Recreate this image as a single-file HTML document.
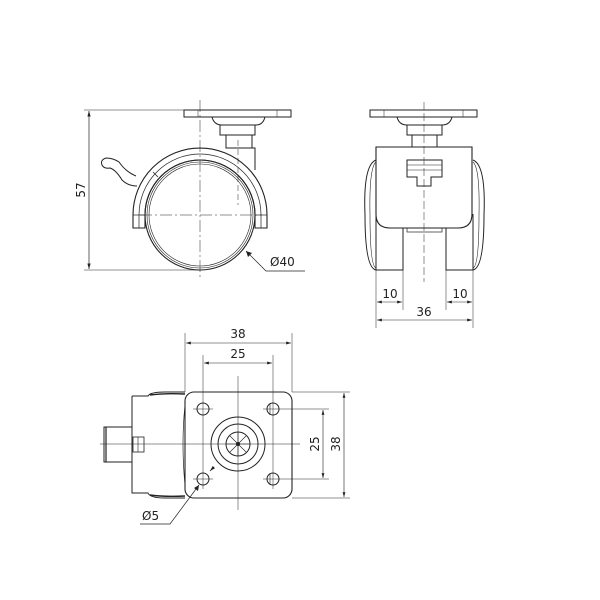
<!DOCTYPE html>
<html><head><style>
html,body{margin:0;padding:0;background:#fff;}
svg{display:block;}
text{font-family:"DejaVu Sans","Liberation Sans",sans-serif;font-size:12px;fill:#222;}
</style></head><body>
<svg width="600" height="600" viewBox="0 0 600 600" xmlns="http://www.w3.org/2000/svg">
<defs>
<marker id="a" viewBox="0 0 10 6" refX="10" refY="3" markerWidth="8" markerHeight="5" orient="auto-start-reverse"><path d="M0,0L10,3L0,6z" fill="#222"/></marker>
</defs>
<g fill="none" stroke="#222" stroke-width="1">
<!-- SIDE VIEW -->
<line x1="84" y1="110" x2="184" y2="110" stroke-width="0.6"/>
<line x1="84" y1="270" x2="200" y2="270" stroke-width="0.6"/>
<line x1="89" y1="111" x2="89" y2="269" stroke-width="0.7" marker-start="url(#a)" marker-end="url(#a)"/>
<rect x="184" y="110" width="107" height="7"/>
<line x1="198" y1="110" x2="198" y2="117" stroke-width="0.5"/>
<line x1="277" y1="110" x2="277" y2="117" stroke-width="0.5"/>
<path d="M212,117 Q214,125 222,125 L256,125 Q263,125 265,117"/>
<rect x="220" y="125" width="35" height="10"/>
<rect x="226" y="135" width="26" height="13"/>
<path d="M238,148 L255,148 L255,170"/>
<!-- fork -->
<path d="M133,228 L133,215 A67,67 0 0 1 267,215 L267,228 L255,228 L255,215 A55,55 0 0 0 145,215 L145,228 Z" stroke-width="1.1"/>
<path d="M139,228 L139,215 A61,61 0 0 1 261,215 L261,228" stroke-width="0.7"/>
<line x1="133" y1="215" x2="145" y2="215" stroke-width="0.7"/>
<line x1="255" y1="215" x2="267" y2="215" stroke-width="0.7"/>
<!-- wheel -->
<circle cx="200" cy="215" r="55" stroke-width="1.1"/>
<circle cx="200" cy="215" r="53" stroke-width="0.6"/>
<circle cx="200" cy="215" r="51" stroke-width="0.6"/>
<!-- lever -->
<path d="M136,176 Q126,172 119,162 Q113,158 106,158 Q100,160 102,165 Q104,169 110,168 Q116,170 122,180 Q128,186 137,186" stroke-width="1"/>
<line x1="153" y1="172" x2="158" y2="177" stroke-width="0.8"/>
<!-- centerlines -->
<line x1="200" y1="100" x2="200" y2="278" stroke-width="0.5" stroke-dasharray="12,3,2,3"/>
<line x1="140" y1="215" x2="262" y2="215" stroke-width="0.5" stroke-dasharray="12,3,2,3"/>
<line x1="238" y1="140" x2="238" y2="205" stroke-width="0.5" stroke-dasharray="6,3"/>
<!-- Ø40 leader -->
<polyline points="246,251 266,271 305,271" stroke-width="0.7"/>
<path d="M246,251 l6,2 l-4,4z" fill="#222" stroke="none"/>

<!-- FRONT VIEW -->
<rect x="370" y="110" width="107" height="7"/>
<line x1="384" y1="110" x2="384" y2="117" stroke-width="0.5"/>
<line x1="463" y1="110" x2="463" y2="117" stroke-width="0.5"/>
<path d="M397,117 Q399,125 407,125 L442,125 Q450,125 452,117"/>
<rect x="407" y="125" width="35" height="10"/>
<rect x="412" y="135" width="25" height="12"/>
<path d="M376,147 H472 V214 Q472,228 458,228 H390 Q376,228 376,214 Z" stroke-width="1.1"/>
<path d="M376,214 V270 H403 V228"/>
<path d="M473,214 V270 H446 V228"/>
<rect x="407" y="228" width="35" height="4" stroke-width="0.7"/>
<path d="M407,160 L442,160 L442,177 L431,177 L431,186 L417,186 L417,177 L407,177 Z"/>
<line x1="407" y1="165" x2="442" y2="165" stroke-width="0.6"/>
<line x1="407" y1="170" x2="442" y2="170" stroke-width="0.6"/>
<path d="M376,160 Q363,165 365,215 Q365,268 376,270" stroke-width="1"/>
<path d="M376,162 Q369,168 370,215 Q370,266 376,268" stroke-width="0.6"/>
<path d="M473,160 Q486,165 484,215 Q484,268 473,270" stroke-width="1"/>
<path d="M473,162 Q480,168 479,215 Q479,266 473,268" stroke-width="0.6"/>
<line x1="424" y1="102" x2="424" y2="282" stroke-width="0.5" stroke-dasharray="8,3"/>
<!-- front dims -->
<line x1="376" y1="270" x2="376" y2="328" stroke-width="0.5"/>
<line x1="473" y1="270" x2="473" y2="328" stroke-width="0.5"/>
<line x1="403" y1="270" x2="403" y2="310" stroke-width="0.5"/>
<line x1="446" y1="270" x2="446" y2="310" stroke-width="0.5"/>
<line x1="377" y1="302" x2="402" y2="302" stroke-width="0.6" marker-start="url(#a)" marker-end="url(#a)"/>
<line x1="447" y1="302" x2="472" y2="302" stroke-width="0.6" marker-start="url(#a)" marker-end="url(#a)"/>
<line x1="377" y1="320" x2="472" y2="320" stroke-width="0.6" marker-start="url(#a)" marker-end="url(#a)"/>

<!-- TOP VIEW -->
<path d="M132,396 L148,396 Q150,392 165,392 L185,392 M132,396 L132,493 L148,493 Q150,498 165,498 L185,498" stroke-width="1"/>
<path d="M150,395 Q165,393 185,394 M150,495 Q165,497 185,496" stroke-width="1.4"/>
<path d="M132,427 L104,427 L104,462 L132,462" stroke-width="1"/>
<line x1="106" y1="427" x2="106" y2="462" stroke-width="1.2"/>
<rect x="133" y="437" width="11" height="15" stroke-width="0.8"/>
<line x1="138" y1="437" x2="138" y2="452" stroke-width="0.6"/>
<rect x="185" y="392" width="107" height="106" rx="9" stroke-width="1.1"/>
<path d="M185,405 Q181,444 185,485" stroke-width="0.7"/>
<circle cx="203" cy="409" r="6"/>
<circle cx="273" cy="409" r="6"/>
<circle cx="203" cy="479" r="6"/>
<circle cx="273" cy="479" r="6"/>
<line x1="270" y1="403" x2="270" y2="415" stroke-width="0.6"/>
<line x1="270" y1="473" x2="270" y2="485" stroke-width="0.6"/>
<circle cx="238" cy="444" r="27"/>
<circle cx="238" cy="444" r="20"/>
<circle cx="238" cy="444" r="12"/>
<g stroke-width="0.6">
<line x1="226" y1="444" x2="250" y2="444"/><line x1="238" y1="432" x2="238" y2="456"/>
<line x1="230" y1="436" x2="246" y2="452"/><line x1="230" y1="452" x2="246" y2="436"/>
</g>
<circle cx="238" cy="444" r="1.5" fill="#222"/>
<g stroke-width="0.5">
<line x1="100" y1="444" x2="300" y2="444"/>
<line x1="238" y1="376" x2="238" y2="510"/>
<line x1="193" y1="409" x2="213" y2="409"/><line x1="263" y1="409" x2="283" y2="409"/>
<line x1="193" y1="479" x2="213" y2="479"/><line x1="263" y1="479" x2="283" y2="479"/>
<line x1="203" y1="399" x2="203" y2="489"/><line x1="273" y1="399" x2="273" y2="489"/>
<line x1="185" y1="333" x2="185" y2="392"/>
<line x1="292" y1="333" x2="292" y2="392"/>
<line x1="203" y1="355" x2="203" y2="399"/>
<line x1="273" y1="355" x2="273" y2="399"/>
<line x1="292" y1="392" x2="350" y2="392"/>
<line x1="292" y1="498" x2="350" y2="498"/>
<line x1="283" y1="409" x2="329" y2="409"/>
<line x1="283" y1="479" x2="329" y2="479"/>
</g>
<line x1="186" y1="343" x2="291" y2="343" stroke-width="0.6" marker-start="url(#a)" marker-end="url(#a)"/>
<line x1="204" y1="363" x2="272" y2="363" stroke-width="0.6" marker-start="url(#a)" marker-end="url(#a)"/>
<line x1="344" y1="393" x2="344" y2="497" stroke-width="0.6" marker-start="url(#a)" marker-end="url(#a)"/>
<line x1="323" y1="410" x2="323" y2="478" stroke-width="0.6" marker-start="url(#a)" marker-end="url(#a)"/>
<line x1="214" y1="467" x2="210" y2="471" stroke-width="0.7" marker-end="url(#a)"/>
<polyline points="199,485 170,524 140,524" stroke-width="0.7"/>
<path d="M199,485 l-1,6 l-4,-3z" fill="#222" stroke="none"/>
</g>
<text x="0" y="0" text-anchor="middle" transform="translate(85 190) rotate(-90)">57</text>
<text x="270" y="266">Ø40</text>
<text x="390" y="298" text-anchor="middle">10</text>
<text x="460" y="298" text-anchor="middle">10</text>
<text x="424" y="316" text-anchor="middle">36</text>
<text x="238" y="338" text-anchor="middle">38</text>
<text x="238" y="358" text-anchor="middle">25</text>
<text x="0" y="0" text-anchor="middle" transform="translate(319 444) rotate(-90)">25</text>
<text x="0" y="0" text-anchor="middle" transform="translate(340 444) rotate(-90)">38</text>
<text x="142" y="520">Ø5</text>
</svg>
</body></html>
